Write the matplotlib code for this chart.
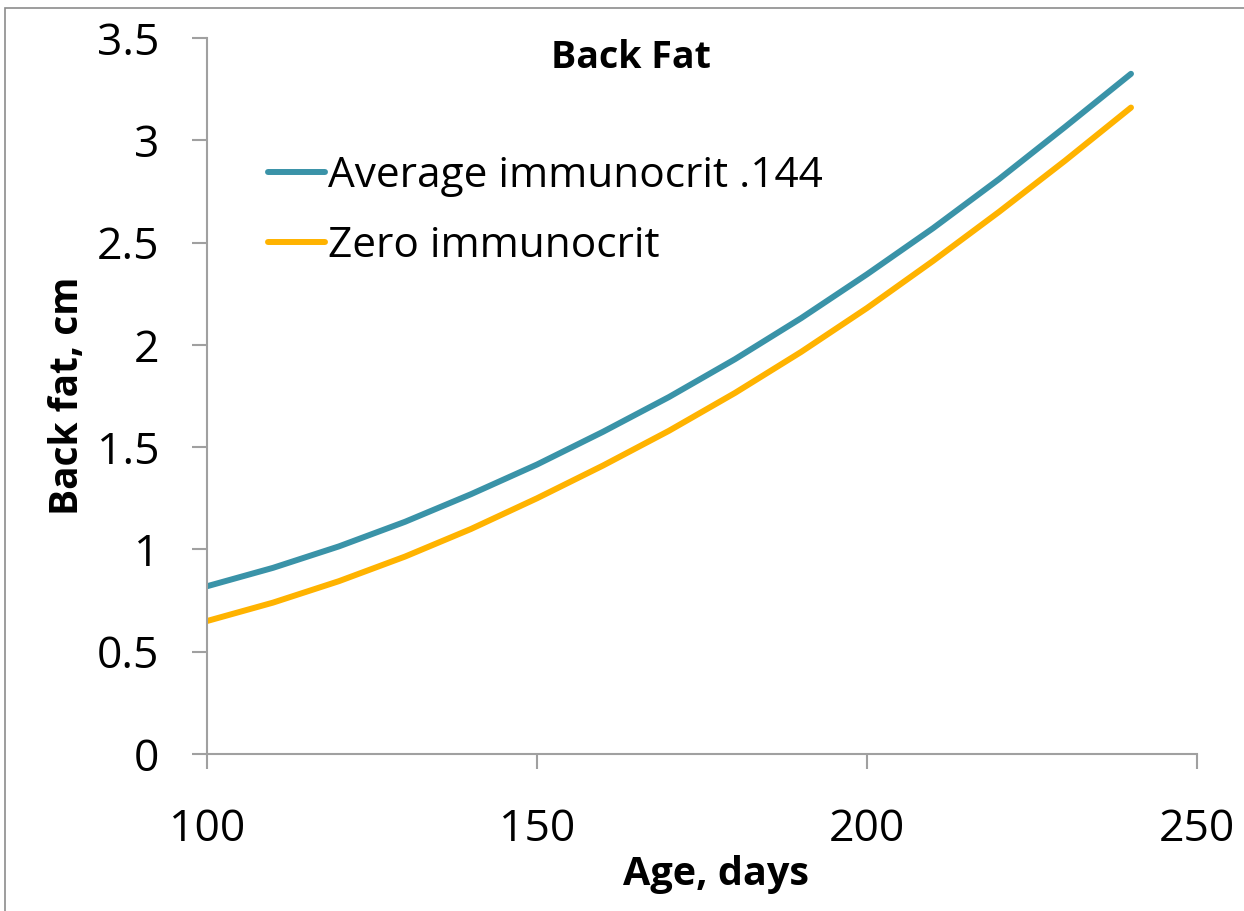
import matplotlib
matplotlib.use("Agg")
import matplotlib.pyplot as plt
from matplotlib.patches import Rectangle

# age (days) and predicted back fat (cm) for the two immunocrit scenarios
age_days = [100, 110, 120, 130, 140, 150, 160, 170, 180, 190, 200, 210, 220, 230, 240]
fat_avg = [0.82, 0.91, 1.015, 1.135, 1.27, 1.415, 1.575, 1.745, 1.93, 2.13, 2.345,
           2.57, 2.81, 3.065, 3.325]
fat_zero = [0.65, 0.74, 0.845, 0.965, 1.10, 1.25, 1.41, 1.58, 1.765, 1.965, 2.18,
            2.41, 2.65, 2.90, 3.16]
series_labels = ["Average immunocrit .144", "Zero immunocrit"]
x_ticks = [100, 150, 200, 250]
y_ticks = [0, 0.5, 1, 1.5, 2, 2.5, 3, 3.5]
y_ticklabels = ["0", "0.5", "1", "1.5", "2", "2.5", "3", "3.5"]

plt.rcParams["font.family"] = ["Open Sans", "DejaVu Sans"]

W, H = 1244, 911
fig = plt.figure(figsize=(W / 100, H / 100), dpi=100)
ax = fig.add_axes([207 / W, 1 - 754 / H, 990 / W, 716 / H])

ax.plot(age_days, fat_avg, color="#3A93A8", lw=4.3, solid_capstyle="round",
        solid_joinstyle="round", label=series_labels[0])
ax.plot(age_days, fat_zero, color="#FFB300", lw=4.3, solid_capstyle="round",
        solid_joinstyle="round", label=series_labels[1])

ax.set_xlim(100, 250)
ax.set_ylim(0, 3.5)
ax.set_xticks(x_ticks)
ax.set_yticks(y_ticks)
ax.set_yticklabels(y_ticklabels)

axis_grey = "#A0A0A0"
for side in ("top", "right"):
    ax.spines[side].set_visible(False)
for side in ("left", "bottom"):
    ax.spines[side].set_color(axis_grey)
    ax.spines[side].set_linewidth(1.5)
ax.tick_params(axis="both", direction="out", length=10.5, width=1.5,
               color=axis_grey, labelsize=32)
ax.tick_params(axis="y", pad=24)
ax.tick_params(axis="x", pad=28)

ax.set_ylabel("Back fat, cm", fontsize=28, fontweight="bold")
ax.yaxis.set_label_coords((68 - 207) / 990, 0.5)
ax.set_xlabel("Age, days", fontsize=28.5, fontweight="bold")
ax.xaxis.set_label_coords((716 - 207) / 990, (754 - 875) / 716)
ax.xaxis.label.set_va("center")
ax.yaxis.label.set_va("center")

ax.text((631 - 207) / 990, (754 - 58) / 716, "Back Fat", transform=ax.transAxes,
        ha="center", va="center", fontsize=27, fontweight="bold")

ax.legend(loc="upper left", bbox_to_anchor=(0.0444, 0.86), frameon=False,
          fontsize=30.5, handlelength=1.34, handletextpad=0.08, labelspacing=0.65,
          borderaxespad=0)

# thin frame around the chart area
fig.patches.append(Rectangle((5 / W, -0.05), 1.2, 1 - 8 / H + 0.05,
                             transform=fig.transFigure, fill=False,
                             edgecolor="#8C8C8C", lw=1.2))

fig.savefig("out.png", dpi=100)
